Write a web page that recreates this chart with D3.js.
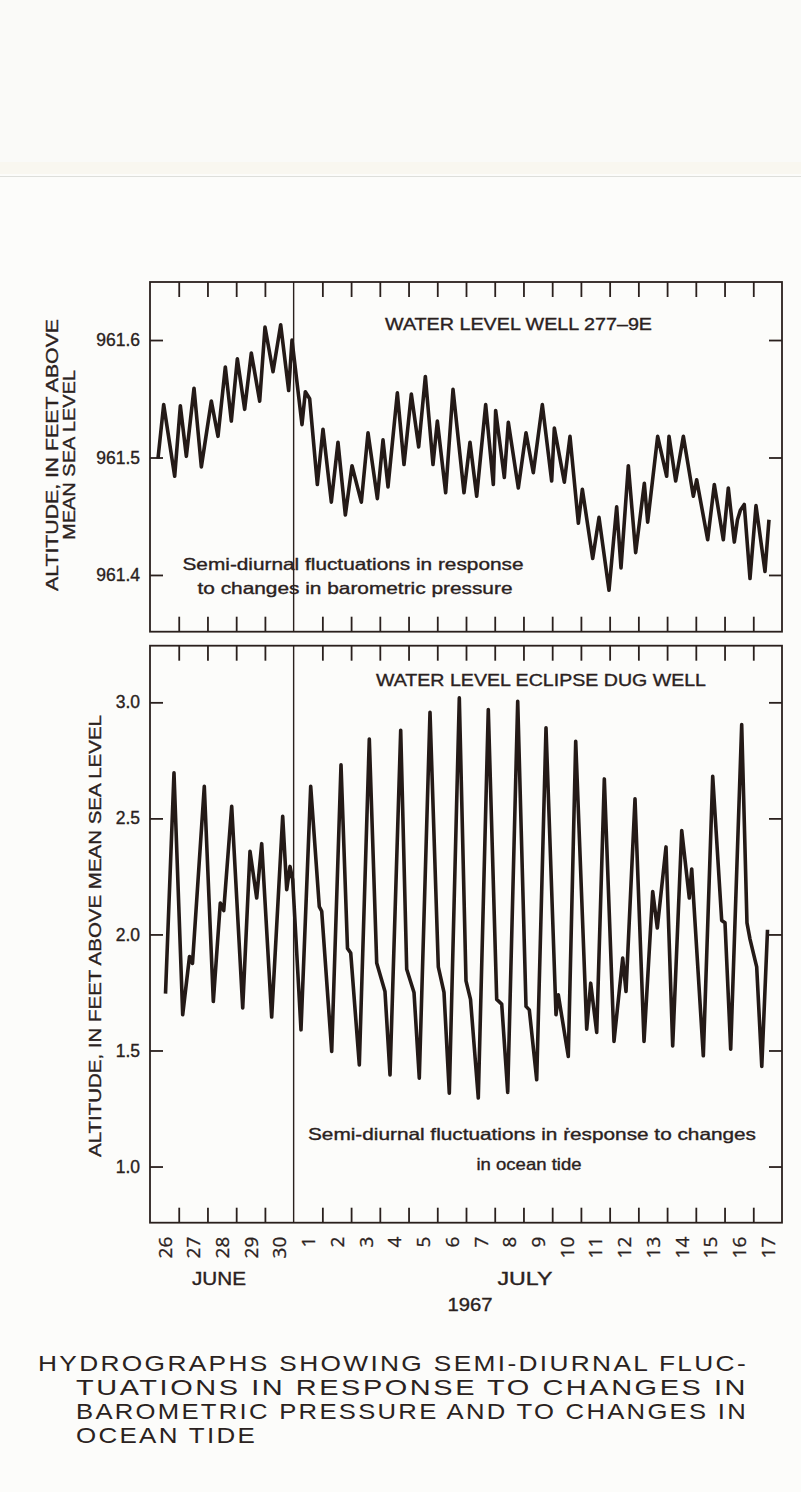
<!DOCTYPE html>
<html>
<head>
<meta charset="utf-8">
<script src="https://cdn.jsdelivr.net/npm/d3@7"></script>
<style>
  html, body { margin: 0; padding: 0; background: #fcfcfa; }
  svg text { fill: #2a2220; }
</style>
</head>
<body>
<div id="chart"></div>
<script>

// Days since June 26 1967, 00:00 (x) and water levels (y)
const dayLabels = ['26', '27', '28', '29', '30', '1', '2', '3', '4', '5', '6', '7', '8', '9', '10', '11', '12', '13', '14', '15', '16', '17'];
const monthLabels = ['JUNE', 'JULY'];

const wellDays = [0.278, 0.476, 0.859, 1.056, 1.265, 1.532, 1.787, 2.135, 2.367, 2.622, 2.831, 3.040, 3.295, 3.527, 3.818, 4.003, 4.282, 4.549, 4.827, 4.943,
  5.291, 5.407, 5.558, 5.825, 6.022, 6.312, 6.544, 6.800, 7.032, 7.357, 7.589, 7.914, 8.111, 8.285, 8.610, 8.842, 9.097, 9.353, 9.585, 9.851,
  10.002, 10.292, 10.548, 10.930, 11.139, 11.372, 11.685, 11.951, 12.032, 12.334, 12.473, 12.821, 13.089, 13.343, 13.657, 13.982, 14.075, 14.423, 14.620, 14.911,
  15.050, 15.410, 15.630, 15.978, 16.245, 16.396, 16.651, 16.906, 17.208, 17.324, 17.672, 17.985, 18.067, 18.299, 18.566, 18.914, 19.030, 19.413, 19.644, 19.957,
  20.131, 20.340, 20.450, 20.550, 20.686, 20.886, 21.095, 21.408, 21.547];
const wellLevels = [961.499, 961.545, 961.484, 961.544, 961.501, 961.559, 961.492, 961.548, 961.518, 961.577, 961.531, 961.584, 961.541, 961.589, 961.548, 961.611, 961.573, 961.613, 961.557, 961.600,
  961.528, 961.556, 961.550, 961.477, 961.524, 961.462, 961.513, 961.451, 961.493, 961.462, 961.521, 961.465, 961.515, 961.475, 961.555, 961.494, 961.554, 961.509, 961.569, 961.494,
  961.531, 961.470, 961.558, 961.470, 961.513, 961.467, 961.545, 961.477, 961.540, 961.483, 961.530, 961.474, 961.521, 961.487, 961.545, 961.480, 961.525, 961.479, 961.518, 961.444,
  961.473, 961.414, 961.449, 961.387, 961.458, 961.406, 961.493, 961.419, 961.478, 961.445, 961.518, 961.484, 961.518, 961.480, 961.518, 961.467, 961.481, 961.430, 961.477, 961.430,
  961.474, 961.428, 961.447, 961.455, 961.460, 961.397, 961.459, 961.403, 961.447];

const tideDays = [0.540, 0.835, 1.138, 1.375, 1.479, 1.890, 2.204, 2.447, 2.566, 2.844, 3.227, 3.481, 3.714, 3.888, 4.236, 4.619, 4.759, 4.873, 4.967, 5.256,
  5.594, 5.893, 5.977, 6.325, 6.649, 6.875, 6.987, 7.286, 7.634, 7.892, 8.180, 8.355, 8.727, 8.936, 9.190, 9.374, 9.747, 10.036, 10.234, 10.419,
  10.767, 11.000, 11.157, 11.428, 11.776, 12.069, 12.243, 12.452, 12.800, 13.089, 13.204, 13.461, 13.785, 14.133, 14.213, 14.561, 14.819, 15.202, 15.341, 15.550,
  15.815, 16.152, 16.455, 16.570, 16.883, 17.197, 17.499, 17.659, 17.962, 18.195, 18.509, 18.773, 18.857, 19.261, 19.588, 19.901, 20.016, 20.214, 20.597, 20.781,
  20.886, 21.119, 21.296, 21.496];
const tideLevels = [1.745, 2.696, 1.654, 1.905, 1.875, 2.638, 1.711, 2.135, 2.103, 2.552, 1.683, 2.358, 2.157, 2.391, 1.644, 2.509, 2.193, 2.293, 2.236, 1.589,
  2.638, 2.120, 2.100, 1.496, 2.731, 1.940, 1.920, 1.438, 2.842, 1.877, 1.754, 1.395, 2.879, 1.850, 1.750, 1.381, 2.957, 1.860, 1.750, 1.316,
  3.019, 1.800, 1.720, 1.295, 2.969, 1.720, 1.700, 1.319, 3.004, 1.690, 1.675, 1.374, 2.890, 1.654, 1.740, 1.474, 2.832, 1.592, 1.790, 1.578,
  2.670, 1.539, 1.898, 1.754, 2.584, 1.539, 2.185, 2.028, 2.377, 1.520, 2.448, 2.157, 2.282, 1.477, 2.681, 2.060, 2.050, 1.506, 2.904, 2.050,
  1.980, 1.860, 1.431, 2.020];

const wellTicks = [961.4, 961.5, 961.6];
const tideTicks = [1.0, 1.5, 2.0, 2.5, 3.0];

const W = 801;
const H = 1492;
const left = 150;
const right = 782;
const dividerDay = 5;

const svg = d3.select('#chart').append('svg')
  .attr('width', W)
  .attr('height', H)
  .attr('viewBox', `0 0 ${W} ${H}`)
  .style('font-family', '"Liberation Sans", Arial, sans-serif');

// paper, with the faint fold near the top
svg.append('rect').attr('width', W).attr('height', H).attr('fill', '#fcfcfa');
svg.append('rect').attr('width', W).attr('height', 172).attr('fill', '#fafaf8');
svg.append('rect').attr('y', 162).attr('width', W).attr('height', 12).attr('fill', '#f9f7f0');
svg.append('line')
  .attr('x1', 0).attr('x2', W).attr('y1', 176.5).attr('y2', 176.5)
  .attr('stroke', '#dedfdb').attr('stroke-width', 1);

const x = d3.scaleLinear().domain([0, 22]).range([left, right]);
const dayTicks = d3.range(1, 22).filter(d => d !== dividerDay);

const panels = [
  { top: 282, bottom: 631.7, domain: [961.3517, 961.6494], days: wellDays, levels: wellLevels, ticks: wellTicks },
  { top: 645.7, bottom: 1222.7, domain: [0.758, 3.244], days: tideDays, levels: tideLevels, ticks: tideTicks }
];

const ink = '#2a201d';

panels.forEach((p) => {
  const y = d3.scaleLinear().domain(p.domain).range([p.bottom, p.top]);
  const g = svg.append('g').attr('class', 'panel');

  // frame
  g.append('rect')
    .attr('x', left).attr('y', p.top)
    .attr('width', right - left).attr('height', p.bottom - p.top)
    .attr('fill', 'none').attr('stroke', ink).attr('stroke-width', 1.8);

  // July 1 divider
  g.append('line')
    .attr('x1', x(dividerDay)).attr('x2', x(dividerDay))
    .attr('y1', p.top).attr('y2', p.bottom)
    .attr('stroke', ink).attr('stroke-width', 1.4);

  const axes = [
    g.append('g').attr('transform', `translate(${left},0)`)
      .call(d3.axisLeft(y).tickValues(p.ticks).tickSize(-13).tickPadding(10).tickFormat(d3.format('.1f'))),
    g.append('g').attr('transform', `translate(${right},0)`)
      .call(d3.axisRight(y).tickValues(p.ticks).tickSize(-13).tickFormat('')),
    g.append('g').attr('transform', `translate(0,${p.top})`)
      .call(d3.axisTop(x).tickValues(dayTicks).tickSize(-15).tickFormat('')),
    g.append('g').attr('transform', `translate(0,${p.bottom})`)
      .call(d3.axisBottom(x).tickValues(dayTicks).tickSize(-15).tickFormat(''))
  ];
  axes.forEach((a) => {
    a.select('.domain').remove();
    a.selectAll('line').attr('stroke', ink).attr('stroke-width', 1.8);
    a.selectAll('text')
      .attr('fill', ink)
      .attr('stroke', ink)
      .attr('stroke-width', 0.35)
      .style('font-size', '17.5px')
      .style('font-family', '"Liberation Sans", Arial, sans-serif');
  });

  const pts = p.days.map((d, i) => [d, p.levels[i]]);
  g.append('path')
    .datum(pts)
    .attr('fill', 'none')
    .attr('stroke', '#241a17')
    .attr('stroke-width', 3.6)
    .attr('stroke-linejoin', 'round')
    .attr('d', d3.line().x(d => x(d[0])).y(d => y(d[1])));
});

// text helper: fits text into measured width
const label = (parent, tx, ty, str, size, width, opts = {}) => {
  const t = parent.append('text')
    .attr('x', tx).attr('y', ty)
    .attr('text-anchor', opts.anchor || 'start')
    .style('font-size', `${size}px`)
    .style('letter-spacing', opts.spacing || 0)
    .text(str);
  if (opts.heavy) t.attr('stroke', ink).attr('stroke-width', 0.35);
  if (width) t.attr('textLength', width).attr('lengthAdjust', 'spacingAndGlyphs');
  if (opts.rotate) t.attr('transform', `rotate(${opts.rotate},${tx},${ty})`);
  return t;
};

const gT = svg.append('g').attr('class', 'titles');

// panel titles
label(gT, 385, 330, 'WATER LEVEL WELL 277–9E', 17, 267, { heavy: true });
label(gT, 376, 686, 'WATER LEVEL ECLIPSE DUG WELL', 17, 330, { heavy: true });

// annotations
label(gT, 353, 570, 'Semi-diurnal fluctuations in response', 16.5, 341, { anchor: 'middle', heavy: true });
label(gT, 355, 594, 'to changes in barometric pressure', 16.5, 315, { anchor: 'middle', heavy: true });
label(gT, 532, 1140, 'Semi-diurnal fluctuations in ṙesponse to changes', 16.5, 448, { anchor: 'middle', heavy: true });
label(gT, 529, 1170, 'in ocean tide', 16.5, 105, { anchor: 'middle', heavy: true });

// y titles
label(gT, 58, 455, 'ALTITUDE, IN FEET ABOVE', 17, 272, { anchor: 'middle', rotate: -90, heavy: true });
label(gT, 75, 455, 'MEAN SEA LEVEL', 17, 170, { anchor: 'middle', rotate: -90, heavy: true });
label(gT, 101, 936, 'ALTITUDE, IN FEET ABOVE MEAN SEA LEVEL', 17, 442, { anchor: 'middle', rotate: -90, heavy: true });

// day labels
const gD = svg.append('g')
  .attr('transform', `translate(0,${panels[1].bottom})`)
  .call(d3.axisBottom(x)
    .tickValues(d3.range(22).map(d => d + 0.5))
    .tickSize(0)
    .tickFormat((d, i) => dayLabels[i]));
gD.select('.domain').remove();
gD.selectAll('text')
  .attr('fill', ink)
  .attr('stroke', ink)
  .attr('stroke-width', 0.3)
  .attr('x', 0)
  .attr('y', 0)
  .attr('dy', '0.35em')
  .attr('text-anchor', 'end')
  .attr('transform', 'translate(0,14) rotate(-90)')
  .style('font-size', '19px')
  .style('font-family', '"Open Sans", "Liberation Sans", sans-serif');

label(gT, 219, 1285, monthLabels[0], 18, 54, { anchor: 'middle', heavy: true });
label(gT, 525, 1285, monthLabels[1], 18, 55, { anchor: 'middle', heavy: true });
label(gT, 470, 1311, '1967', 18, 45, { anchor: 'middle', heavy: true });

// caption
const gC = svg.append('g').attr('class', 'caption');
label(gC, 38, 1371, 'HYDROGRAPHS SHOWING SEMI-DIURNAL FLUC-', 22.5, 710, { spacing: '2px' });
label(gC, 76, 1395, 'TUATIONS IN RESPONSE TO CHANGES IN', 22.5, 672, { spacing: '2px' });
label(gC, 76, 1419, 'BAROMETRIC PRESSURE AND TO CHANGES IN', 22.5, 672, { spacing: '2px' });
label(gC, 76, 1443, 'OCEAN TIDE', 22.5, 181, { spacing: '2px' });
gC.selectAll('text').attr('fill', '#332d2a');

</script>
</body>
</html>
